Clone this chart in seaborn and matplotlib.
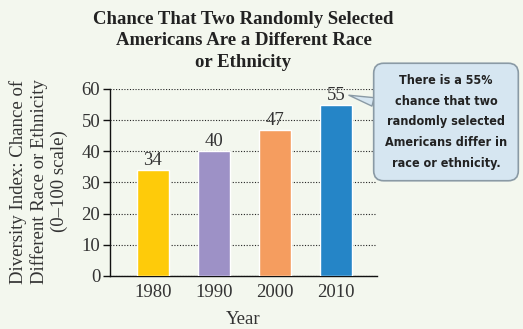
import matplotlib
matplotlib.use("Agg")
import matplotlib.pyplot as plt
from matplotlib import font_manager
import seaborn as sns
import pandas as pd

# Diversity index by census year
years = ["1980", "1990", "2000", "2010"]
diversity = [34, 40, 47, 55]
bar_colors = ["#fecb0a", "#9d91c6", "#f59d5f", "#2585c7"]
y_ticks = [0, 10, 20, 30, 40, 50, 60]

title = "Chance That Two Randomly Selected\nAmericans Are a Different Race\nor Ethnicity"
y_label = "Diversity Index: Chance of\nDifferent Race or Ethnicity\n(0\u2013100 scale)"
x_label = "Year"
note = ("There is a 55%\nchance that two\nrandomly selected\n"
        "Americans differ in\nrace or ethnicity.")

bg = "#f3f7ee"
serif = ["Liberation Serif", "DejaVu Serif"]
fs = 13.5

# Narrow face for the callout if one is installed, else a monospace face
narrow = None
for f in font_manager.fontManager.ttflist:
    name = f.name.lower()
    if ("narrow" in name or "condensed" in name or f.stretch in ("condensed", "semi-condensed")) \
            and f.weight in (600, 700, "bold"):
        narrow = f.fname
        break
if narrow:
    note_font = dict(fontproperties=font_manager.FontProperties(fname=narrow, size=9.0))
else:
    note_font = dict(family=["DejaVu Sans Mono"], fontsize=8.3, fontweight="bold")

sns.set_theme(style="white")
plt.rcParams["font.family"] = serif

df = pd.DataFrame({"year": years, "value": diversity})

fig = plt.figure(figsize=(5.23, 3.29), dpi=100, facecolor=bg)
ax = fig.add_axes([0.2103, 0.1611, 0.5105, 0.5684], facecolor=bg)

sns.barplot(data=df, x="year", y="value", hue="year", palette=bar_colors,
            width=0.52, legend=False, ax=ax, zorder=3, saturation=1)

ax.set_xlim(-0.7, 3.67)
ax.set_ylim(0, 60)
ax.set_yticks(y_ticks)
ax.grid(axis="y", linestyle=(0, (1, 1.5)), color="#222222", linewidth=0.8, zorder=0)
ax.set_axisbelow(True)

for s in ["top", "right"]:
    ax.spines[s].set_visible(False)
for s in ["left", "bottom"]:
    ax.spines[s].set_color("#111111")
    ax.spines[s].set_linewidth(1.0)

ax.tick_params(axis="y", length=5, width=1, color="#111111", pad=2,
               labelsize=fs, labelcolor="#333333", left=True, direction="out")
ax.tick_params(axis="x", length=0, pad=6, labelsize=fs, labelcolor="#333333")

ax.set_xlabel(x_label, fontsize=fs, color="#333333", labelpad=7)
ax.set_ylabel(y_label, fontsize=fs, color="#333333", linespacing=1.2)
ax.yaxis.set_label_coords(-0.157, 0.505)

for i, v in enumerate(diversity):
    ax.text(i, v + 0.3, str(v), ha="center", va="bottom", fontsize=fs,
            color="#333333")

fig.text(0.4655, 0.968, title, ha="center", va="top", fontsize=fs,
         fontweight="bold", color="#222222", linespacing=1.36)

# Callout pointing to the 2010 value
ax.annotate(note, xy=(3.21, 58.0), xycoords="data",
            xytext=(446 / 523, 1 - 122 / 329), textcoords="figure fraction",
            ha="center", va="center", color="#222222",
            linespacing=1.75 if narrow else 1.85, annotation_clip=False,
            bbox=dict(boxstyle="round,pad=0.9,rounding_size=0.8",
                      fc="#d6e6f1", ec="#8a9aa5", lw=1.2),
            arrowprops=dict(arrowstyle="wedge,tail_width=0.7,shrink_factor=0.5",
                            fc="#d6e6f1", ec="#8a9aa5", lw=1.0,
                            shrinkA=0, shrinkB=0),
            **note_font)

fig.savefig("out.png", dpi=100, facecolor=bg)
